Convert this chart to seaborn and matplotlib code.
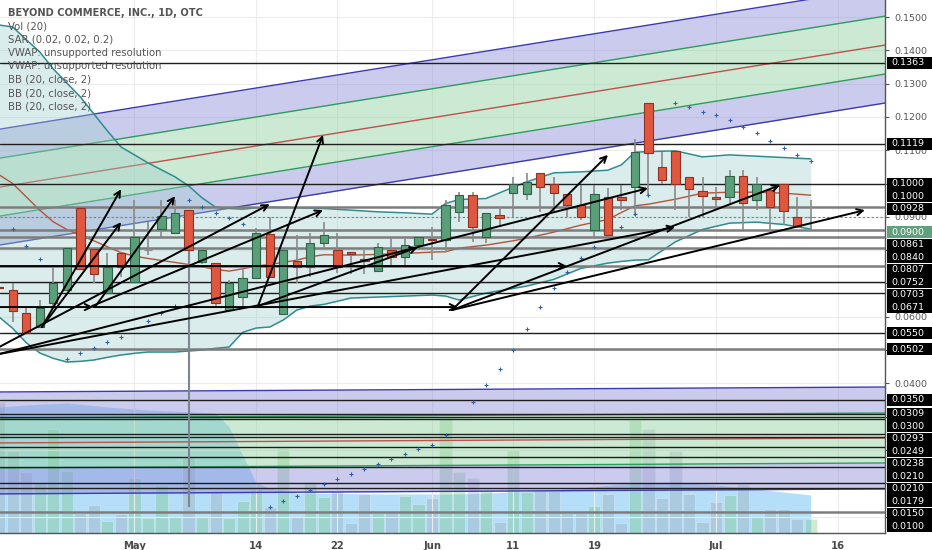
"""
Candlestick chart with regression channels, Bollinger bands, SAR and volume
(recreation of a TradingView daily chart).
"""
import numpy as np
import matplotlib
matplotlib.use("Agg")
import matplotlib.pyplot as plt
import matplotlib.transforms as mtransforms
from matplotlib.patches import Rectangle
import seaborn as sns

# ── Data (bar index 0 = Apr 17, trading days only) ───────────
OPEN = [0.0690, 0.0680, 0.0612, 0.0568, 0.0642, 0.0680, 0.0926, 0.0802, 0.0670, 0.0792,
        0.0705, 0.0800, 0.0862, 0.0850, 0.0920, 0.0765, 0.0762, 0.0620, 0.0660, 0.0715,
        0.0848, 0.0608, 0.0768, 0.0750, 0.0820, 0.0800, 0.0795, 0.0772, 0.0738, 0.0800,
        0.0778, 0.0815, 0.0833, 0.0830, 0.0915, 0.0965, 0.0840, 0.0905, 0.0972, 0.0968,
        0.1032, 0.0998, 0.0968, 0.0935, 0.0860, 0.0959, 0.0960, 0.0990, 0.1241, 0.1050,
        0.1099, 0.1019, 0.0978, 0.0960, 0.0960, 0.1023, 0.0950, 0.0980, 0.0998, 0.0898,
        0.0900]
HIGH = [0.0692, 0.0702, 0.0626, 0.0650, 0.0750, 0.0805, 0.0926, 0.0806, 0.0791, 0.0795,
        0.0950, 0.0885, 0.0950, 0.0950, 0.0920, 0.0810, 0.0762, 0.0710, 0.0746, 0.0866,
        0.0900, 0.0800, 0.0845, 0.0850, 0.0885, 0.0850, 0.0795, 0.0800, 0.0820, 0.0835,
        0.0835, 0.0840, 0.0870, 0.0950, 0.0975, 0.0975, 0.0910, 0.0930, 0.1020, 0.1031,
        0.1032, 0.1020, 0.0968, 0.0995, 0.0995, 0.0986, 0.0995, 0.1133, 0.1241, 0.1095,
        0.1099, 0.1019, 0.1019, 0.0990, 0.1041, 0.1041, 0.1020, 0.0980, 0.0998, 0.0959,
        0.0950]
LOW = [0.0683, 0.0585, 0.0550, 0.0566, 0.0630, 0.0680, 0.0742, 0.0702, 0.0670, 0.0720,
       0.0705, 0.0785, 0.0840, 0.0850, 0.0800, 0.0758, 0.0630, 0.0620, 0.0625, 0.0715,
       0.0720, 0.0605, 0.0702, 0.0720, 0.0805, 0.0730, 0.0728, 0.0728, 0.0738, 0.0750,
       0.0755, 0.0815, 0.0770, 0.0795, 0.0885, 0.0825, 0.0820, 0.0870, 0.0900, 0.0950,
       0.0915, 0.0915, 0.0900, 0.0890, 0.0840, 0.0840, 0.0920, 0.0902, 0.0965, 0.1000,
       0.0920, 0.0900, 0.0900, 0.0920, 0.0940, 0.0860, 0.0920, 0.0855, 0.0875, 0.0872,
       0.0860]
CLOSE = [0.0686, 0.0618, 0.0550, 0.0625, 0.0700, 0.0805, 0.0742, 0.0728, 0.0750, 0.0750,
         0.0838, 0.0800, 0.0902, 0.0910, 0.0800, 0.0800, 0.0640, 0.0702, 0.0715, 0.0850,
         0.0720, 0.0800, 0.0750, 0.0820, 0.0845, 0.0750, 0.0788, 0.0768, 0.0808, 0.0778,
         0.0815, 0.0840, 0.0829, 0.0935, 0.0965, 0.0870, 0.0910, 0.0895, 0.0998, 0.1005,
         0.0989, 0.0971, 0.0935, 0.0898, 0.0968, 0.0845, 0.0952, 0.1095, 0.1091, 0.1011,
         0.1000, 0.0983, 0.0962, 0.0954, 0.1023, 0.0940, 0.0998, 0.0929, 0.0918, 0.0872,
         0.0900]
# volume, thousands of shares
VOLUME = [1313, 820, 610, 500, 1040, 620, 200, 280, 120, 190,
          550, 150, 480, 170, 770, 170, 410, 150, 320, 440,
          260, 850, 170, 510, 360, 420, 100, 390, 200, 210,
          370, 290, 350, 1150, 610, 550, 420, 110, 830, 410,
          420, 420, 200, 200, 270, 390, 100, 1130, 1040, 350,
          820, 390, 110, 310, 380, 490, 160, 240, 240, 140,
          140]
VOL_MA_IDX = [0, 2, 5, 8, 11, 16, 17, 18, 19, 20, 22, 28, 34, 38, 42, 47, 50, 53, 58, 60]
VOL_MA = [1260, 1280, 1300, 1260, 1230, 1200, 1060, 780, 500, 450,
          400, 390, 390, 410, 440, 500, 510, 480, 410, 380]

BB_IDX = [0, 1, 2, 3, 4, 5, 6, 7, 8, 9, 10, 11, 12, 13, 14, 15, 16, 17, 18, 19, 20, 21, 22,
          23, 24, 26, 28, 30, 32, 33, 34, 36, 38, 39, 41, 43, 45, 46, 47, 48, 50, 52, 54,
          56, 58, 60]
BB_UPPER = [0.1476, 0.1470, 0.1432, 0.1395, 0.1344, 0.1302, 0.1260, 0.1209, 0.1158, 0.1110,
            0.1086, 0.1062, 0.1041, 0.1020, 0.0993, 0.0957, 0.0929, 0.0925, 0.0923, 0.0927,
            0.0929, 0.0928, 0.0927, 0.0926, 0.0925, 0.0920, 0.0915, 0.0912, 0.0908, 0.0940,
            0.0952, 0.0955, 0.0989, 0.1005, 0.1032, 0.1035, 0.1040, 0.1056, 0.1094, 0.1096,
            0.1098, 0.1080, 0.1086, 0.1082, 0.1078, 0.1074]
BB_MID = [0.1026, 0.1000, 0.0960, 0.0920, 0.0885, 0.0862, 0.0845, 0.0828, 0.0810, 0.0793,
          0.0782, 0.0775, 0.0769, 0.0763, 0.0757, 0.0750, 0.0742, 0.0737, 0.0744, 0.0752,
          0.0757, 0.0763, 0.0770, 0.0780, 0.0786, 0.0785, 0.0787, 0.0790, 0.0794, 0.0795,
          0.0806, 0.0815, 0.0828, 0.0836, 0.0854, 0.0875, 0.0892, 0.0913, 0.0933, 0.0938,
          0.0953, 0.0971, 0.0974, 0.0974, 0.0971, 0.0965]
BB_LOWER = [0.0599, 0.0565, 0.0522, 0.0491, 0.0475, 0.0464, 0.0466, 0.0470, 0.0478, 0.0485,
            0.0490, 0.0494, 0.0494, 0.0494, 0.0497, 0.0500, 0.0505, 0.0509, 0.0553, 0.0566,
            0.0569, 0.0590, 0.0620, 0.0632, 0.0637, 0.0656, 0.0659, 0.0662, 0.0665, 0.0662,
            0.0650, 0.0671, 0.0685, 0.0692, 0.0712, 0.0745, 0.0761, 0.0766, 0.0770, 0.0771,
            0.0825, 0.0862, 0.0881, 0.0884, 0.0877, 0.0863]

SAR_IDX = [1, 2, 3, 5, 6, 7, 8, 9, 11, 12, 13, 14, 15, 16, 17, 18,
           20, 21, 22, 23, 24, 25, 26, 27, 28, 29, 30, 31, 32, 33, 35, 36, 37, 38, 39,
           40, 41, 42, 43, 44, 46, 47, 48, 50, 51, 52, 53, 54, 55, 56, 57, 58, 59, 60]
SAR = [0.0864, 0.0812, 0.0773, 0.0473, 0.0491, 0.0506, 0.0524, 0.0539, 0.0587, 0.0611,
       0.0632, 0.0950, 0.0929, 0.0911, 0.0896, 0.0878,
       0.0029, 0.0047, 0.0062, 0.0080, 0.0098, 0.0113, 0.0128, 0.0143, 0.0158, 0.0173,
       0.0188, 0.0203, 0.0215, 0.0245, 0.0344, 0.0395, 0.0443, 0.0500, 0.0563,
       0.0629, 0.0686, 0.0734, 0.0776, 0.0809, 0.0869, 0.0908, 0.0965, 0.1242, 0.1230,
       0.1215, 0.1206, 0.1191, 0.1170, 0.1152, 0.1128, 0.1107, 0.1086, 0.1068]

TICK_IDX = [10, 19, 25, 32, 38, 44, 53, 62]
TICK_LABELS = ["May", "14", "22", "Jun", "11", "19", "Jul", "16"]
GRID_PRICES = [0.15, 0.14, 0.13, 0.12, 0.11, 0.10, 0.09, 0.08, 0.07, 0.06, 0.05, 0.04,
               0.03, 0.02, 0.01, 0.00]
GRID_SHOWN = [0.15, 0.14, 0.13, 0.12, 0.11, 0.09, 0.06, 0.04]

# horizontal line drawings
HLINES_DARK = [0.1363, 0.1119, 0.1000, 0.0703, 0.0671, 0.0550,
               0.0350, 0.0309, 0.0300, 0.0293, 0.0249, 0.0238, 0.0210, 0.0179,
               0.0150, 0.0100, 0.0086]
HLINES_GRAY = [0.0928, 0.0861, 0.0840, 0.0807, 0.0752, 0.0502, 0.0014]
PRICE_LABELS = [0.1363, 0.1119, 0.1000, 0.1000, 0.0928, 0.0900, 0.0861, 0.0840, 0.0807,
                0.0752, 0.0703, 0.0671, 0.0550, 0.0502, 0.0350, 0.0309, 0.0300, 0.0293,
                0.0249, 0.0238, 0.0210, 0.0210, 0.0179, 0.0150, 0.0100]
LAST_PRICE = 0.0900

# linear regression channels: centre line at the two ends, inner / outer offsets
CHANNEL_IDX = [0, 66]
CHANNEL_MID = [0.0989, 0.1419]
CHANNEL_OFFSETS = [0.0087, 0.0174]
LOW_CHANNEL_MID = [0.0221, 0.0236]
LOW_CHANNEL_OFFSETS = [0.0075, 0.0153]

# arrow drawings: (start index, start price) -> (end index, end price)
ARROW_X0 = [3.16, 3.16, 7.08, 0.0, 6.86, 0.0, 19.13, 6.94, 33.48, 0.0, 33.48, 19.13, 0.0, 0.0, 33.48]
ARROW_Y0 = [0.0569, 0.0569, 0.0629, 0.0509, 0.0632, 0.0629, 0.0632, 0.0629, 0.0620, 0.0488,
            0.0620, 0.0632, 0.0488, 0.0752, 0.0620]
ARROW_X1 = [9.01, 9.01, 13.0, 20.0, 23.94, 6.94, 23.94, 33.92, 45.01, 47.97, 64.0, 30.96,
            49.97, 41.98, 57.73]
ARROW_Y1 = [0.0983, 0.0884, 0.0962, 0.0938, 0.0920, 0.0629, 0.1146, 0.0629, 0.1086, 0.0986,
            0.0920, 0.0809, 0.0869, 0.0752, 0.0995]

VLINE_IDX = 14
VLINE_RANGE = [0.0029, 0.0800]

LEGEND_LINES = ["BEYOND COMMERCE, INC., 1D, OTC", "Vol (20)", "SAR (0.02, 0.02, 0.2)",
                "VWAP: unsupported resolution", "VWAP: unsupported resolution",
                "BB (20, close, 2)", "BB (20, close, 2)", "BB (20, close, 2)"]

# ── Styling ───────────────────────────────────────────────────
PALETTE = {
    "up": "#5b9f7a", "up_edge": "#2f6247",
    "down": "#e0573f", "down_edge": "#8e3323",
    "wick": "#8a8a8a",
    "band_blue": "#8c8cd9", "band_green": "#8fd19e",
    "line_blue": "#3a3ab4", "line_green": "#2e9b5f", "line_red": "#c0504d",
    "bb_fill": "#9fcfcc", "bb_line": "#2f8c8f", "bb_mid": "#b5543d",
    "vol_area": "#4fb3f0", "vol_up": "#66bb6a", "vol_down": "#8f9aa8",
    "sar": "#2f5fa8", "text": "#555555",
}

sns.set_style("white")
plt.rcParams["font.family"] = ["DejaVu Sans"]

fig = plt.figure(figsize=(9.32, 5.5), dpi=100)
ax = fig.add_axes([0.0, 17 / 550, 885 / 932, 533 / 550])
ax_vol = ax.twinx()
ax.set_zorder(ax_vol.get_zorder() + 1)
ax.patch.set_visible(False)

x_min, x_max = 0.06, 65.49
y_min, y_max = -0.00495, 0.15511
ax.set_xlim(x_min, x_max)
ax.set_ylim(y_min, y_max)
px = (y_max - y_min) / 533  # one pixel in price units

# ── Volume (own scale, bottom of pane) ────────────────────────
idx = np.arange(len(OPEN))
o, h, l, c = (np.array(a) for a in (OPEN, HIGH, LOW, CLOSE))
up = c >= o
ax_vol.fill_between(VOL_MA_IDX, 0, VOL_MA, color=PALETTE["vol_area"], alpha=0.42, lw=0)
ax_vol.bar(idx, VOLUME, width=0.9, color=np.where(up, PALETTE["vol_up"], PALETTE["vol_down"]),
           alpha=0.3, edgecolor="white", linewidth=0.6)
ax_vol.set_ylim(0, 5330)
ax_vol.set_yticks([])
for s in ax_vol.spines.values():
    s.set_visible(False)

# ── Regression channels ───────────────────────────────────────
for mids, (inner, outer) in ((CHANNEL_MID, CHANNEL_OFFSETS), (LOW_CHANNEL_MID, LOW_CHANNEL_OFFSETS)):
    m = np.array(mids)
    ax.fill_between(CHANNEL_IDX, m + inner, m + outer, color=PALETTE["band_blue"], alpha=0.45, lw=0, zorder=1)
    ax.fill_between(CHANNEL_IDX, m - outer, m - inner, color=PALETTE["band_blue"], alpha=0.45, lw=0, zorder=1)
    ax.fill_between(CHANNEL_IDX, m - inner, m + inner, color=PALETTE["band_green"], alpha=0.45, lw=0, zorder=1)
    for off, col in ((outer, "line_blue"), (inner, "line_green"), (-inner, "line_green"), (-outer, "line_blue")):
        ax.plot(CHANNEL_IDX, m + off, color=PALETTE[col], lw=1.0, zorder=1.5)
    ax.plot(CHANNEL_IDX, m, color=PALETTE["line_red"], lw=1.0, zorder=1.5)

# ── Bollinger bands ───────────────────────────────────────────
ax.fill_between(BB_IDX, BB_LOWER, BB_UPPER, color=PALETTE["bb_fill"], alpha=0.38, lw=0, zorder=2)
sns.lineplot(x=BB_IDX, y=BB_UPPER, color=PALETTE["bb_line"], lw=1.1, ax=ax, zorder=2.5)
sns.lineplot(x=BB_IDX, y=BB_LOWER, color=PALETTE["bb_line"], lw=1.1, ax=ax, zorder=2.5)
sns.lineplot(x=BB_IDX, y=BB_MID, color=PALETTE["bb_mid"], lw=1.0, ax=ax, zorder=2.5)

# ── Horizontal drawings and last price ────────────────────────
for y in HLINES_DARK:
    ax.axhline(y, color="#1e1e1e", lw=1.0, zorder=3)
for y in HLINES_GRAY:
    ax.axhline(y, color="#7d7d7d", lw=1.8, zorder=3)
ax.axhline(LAST_PRICE, color="#3f9d8c", lw=0.8, ls=(0, (2, 2)), zorder=3)
ax.vlines(VLINE_IDX, VLINE_RANGE[0], VLINE_RANGE[1], color="#7d8590", lw=1.5, zorder=3)

# ── Candles ───────────────────────────────────────────────────
flat = c == o
body_col = np.where(flat, PALETTE["wick"], np.where(c > o, PALETTE["up"], PALETTE["down"]))
edge_col = np.where(flat, PALETTE["wick"], np.where(c > o, PALETTE["up_edge"], PALETTE["down_edge"]))
ax.vlines(idx, l, h, color=PALETTE["wick"], lw=1.2, zorder=5)
ax.bar(idx, np.abs(c - o), bottom=np.minimum(o, c), width=0.62, color=body_col,
       edgecolor=edge_col, linewidth=0.8, zorder=6)

# ── Parabolic SAR ─────────────────────────────────────────────
sns.scatterplot(x=SAR_IDX, y=SAR, marker="+", s=9, color=PALETTE["sar"], linewidth=0.8,
                ax=ax, zorder=7)

# ── Arrows ────────────────────────────────────────────────────
for x0, y0, x1, y1 in zip(ARROW_X0, ARROW_Y0, ARROW_X1, ARROW_Y1):
    ax.annotate("", xy=(x1, y1), xytext=(x0, y0),
                arrowprops=dict(arrowstyle="->", color="black", lw=1.4,
                                shrinkA=0, shrinkB=0, mutation_scale=11),
                zorder=8)

# ── Axes ──────────────────────────────────────────────────────
ax.grid(True, color="#ececec", lw=0.8, zorder=0)
ax.set_axisbelow(True)
ax.set_xticks(TICK_IDX)
ax.set_xticklabels(TICK_LABELS, fontsize=7.2, fontweight="bold", color="#4a4a4a")
ax.yaxis.tick_right()
ax.set_yticks(GRID_PRICES)
ax.set_yticklabels([f"{v:.4f}" if v in GRID_SHOWN else "" for v in GRID_PRICES],
                   fontsize=6.8, color="#555555")
ax.tick_params(axis="y", length=3, pad=4, color="#555555")
ax.tick_params(axis="x", length=3, pad=3, color="#555555")
for side in ("top", "left"):
    ax.spines[side].set_visible(False)
for side in ("right", "bottom"):
    ax.spines[side].set_color("#555555")
    ax.spines[side].set_linewidth(1.0)
ax.set_xlabel("")
ax.set_ylabel("")

# price label boxes, stacked so they do not overlap
trans = mtransforms.blended_transform_factory(ax.transAxes, ax.transData)
gap = 12.5 * px
box_h = 12 * px
prev = np.inf
for v in PRICE_LABELS:
    is_last = v == LAST_PRICE
    pos = min(v, prev - gap * (1.9 if is_last else 1.0))
    prev = pos
    ax.add_patch(Rectangle((1.002, pos - box_h / 2), 0.06, box_h, transform=trans,
                           fc="#5fa07d" if is_last else "black", ec="none",
                           clip_on=False, zorder=19))
    ax.text(1.0075, pos, f"{v:.4f}", transform=trans, fontsize=6.8, color="white",
            ha="left", va="center", zorder=20, clip_on=False)

# legend text, top left
for k, line in enumerate(LEGEND_LINES):
    ax.text(0.009, 1 - (12.7 + 13.4 * k) / 533, line, transform=ax.transAxes,
            fontsize=7.1 if k == 0 else 7.3, fontweight="bold" if k == 0 else "normal",
            color=PALETTE["text"], ha="left", va="center", zorder=20)

fig.savefig("out.png", dpi=100, facecolor="white")
plt.close(fig)
